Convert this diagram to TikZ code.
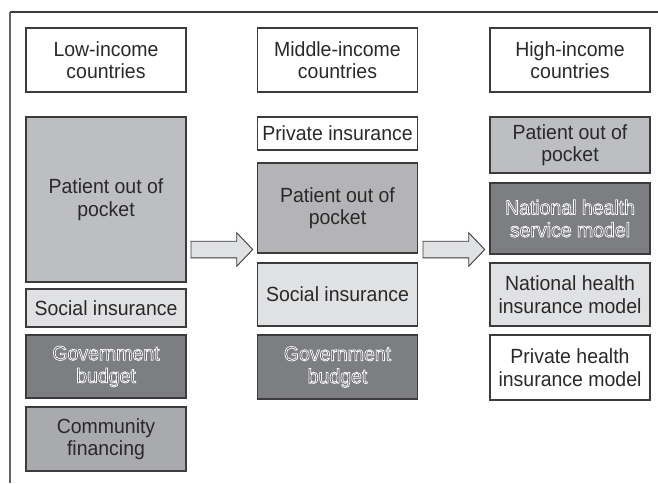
\documentclass[tikz,border=0pt]{standalone}
\usepackage{fontspec}
\setmainfont{Liberation Sans}[FakeStretch=0.95]
\usetikzlibrary{calc}
\definecolor{inkgray}{HTML}{2A2829}
\definecolor{edgegray}{HTML}{3C3C3E}
\definecolor{pocketgray}{HTML}{BDBEC1}
\definecolor{socialgray}{HTML}{E0E1E3}
\definecolor{govgray}{HTML}{7D7E81}
\definecolor{commgray}{HTML}{A9AAAD}
\definecolor{govtext}{HTML}{5A5B5D}
\def\blockarrow(#1,#2){\draw[arrowbox] (#1,#2-8.3) -- (#1+45.7,#2-8.3) -- (#1+45.7,#2-16.8) -- (#1+61.7,#2) -- (#1+45.7,#2+16.8) -- (#1+45.7,#2+8.3) -- (#1,#2+8.3) -- cycle;}
\def\halo#1{\special{pdf:literal direct 1 1 1 RG 0.75 w 2 Tr}#1\special{pdf:literal direct 0 Tr}}

\tikzset{
  fundbox/.style={draw=edgegray, line width=1.1pt, minimum width=160pt, inner sep=0pt,
    align=center, text=inkgray, font=\fontsize{20.5}{22.5}\selectfont},
  arrowbox/.style={draw=edgegray, line width=0.9pt, fill=socialgray, line join=miter}
}

\begin{document}
\begin{tikzpicture}[x=1pt, y=-1pt]
		%%%%% START %%%%%
		\useasboundingbox (0,0) rectangle (658,483);
		\draw[edgegray, line width=1.3pt] (10,12) -- (658,12);
		\draw[edgegray!80, line width=1.8pt] (10,12) -- (10,483);
		
		% low-income column
		\node[fundbox, minimum height=64pt] (lowhead) at (106,60) {Low-income\\countries};
		\node[fundbox, minimum height=165pt, fill=pocketgray] (lowpocket) at (106,199.5) {Patient out of\\pocket};
		\node[fundbox, minimum height=38pt, fill=socialgray] (lowsocial) at (106,308) {Social insurance};
		\node[fundbox, minimum height=63pt, fill=govgray, text=govtext] (lowgov) at (106,366.5) {\halo{Government}\\\halo{budget}};
		\node[fundbox, minimum height=64pt, fill=commgray] (lowcomm) at (106,439) {Community\\financing};
		
		% middle-income column
		\node[fundbox, minimum height=64pt] (midhead) at (337.5,60) {Middle-income\\countries};
		\node[fundbox, minimum height=33pt] (midprivate) at (337.5,133.5) {Private insurance};
		\node[fundbox, minimum height=90pt, fill=pocketgray!95!black] (midpocket) at (337.5,208) {Patient out of\\pocket};
		\node[fundbox, minimum height=63pt, fill=socialgray] (midsocial) at (337.5,294.5) {Social insurance};
		\node[fundbox, minimum height=64pt, fill=govgray, text=govtext] (midgov) at (337.5,367) {\halo{Government}\\\halo{budget}};
		
		% high-income column
		\node[fundbox, minimum height=64pt] (highhead) at (570,60) {High-income\\countries};
		\node[fundbox, minimum height=56pt, fill=pocketgray] (highpocket) at (570,145) {Patient out of\\pocket};
		\node[fundbox, minimum height=71pt, fill=govgray, text=govtext] (highnhs) at (570,218.5) {\halo{National health}\\\halo{service model}};
		\node[fundbox, minimum height=63pt, fill=socialgray] (highnhi) at (570,294.5) {National health\\insurance model};
		\node[fundbox, minimum height=65pt] (highphi) at (570,367.5) {Private health\\insurance model};
		
		% arrows between the columns
		\blockarrow(191,249.5)
		\blockarrow(423,249.5)
		%%%%% END %%%%%
\end{tikzpicture}
\end{document}
